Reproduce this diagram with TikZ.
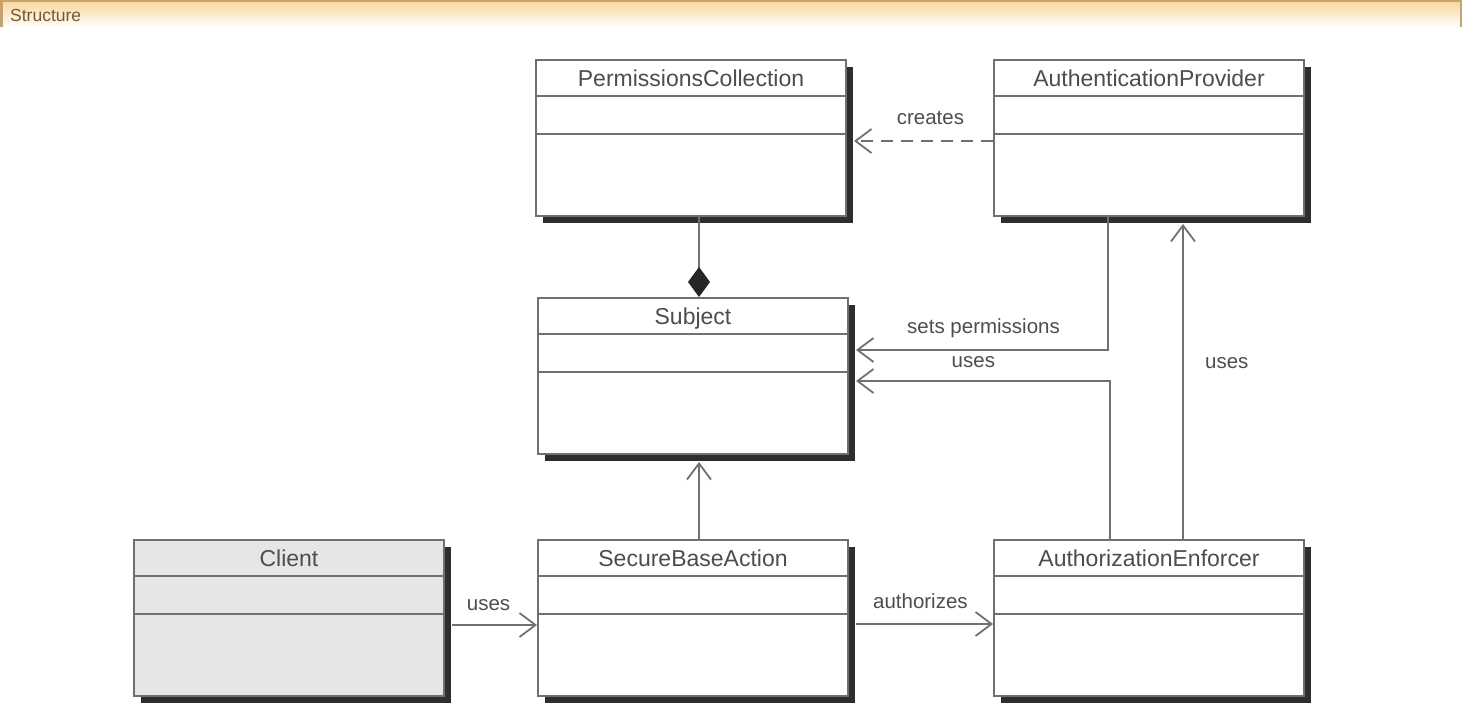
\documentclass[tikz,border=0pt]{standalone}
\usepackage{fontspec}
\setmainfont{Liberation Sans}
\usetikzlibrary{arrows.meta,shadows}
\definecolor{linegray}{HTML}{707070}
\definecolor{shadowgray}{HTML}{2E2E2E}
\definecolor{textgray}{HTML}{4D4D4D}
\definecolor{clientfill}{HTML}{E6E6E6}
\definecolor{headtop}{HTML}{FAD79C}
\definecolor{headline}{HTML}{C8A26A}
\definecolor{headtext}{HTML}{7A5A2A}
\newcommand\umlclass[4][white]{%
  \node[classbox, fill=#1] (#2) at #3 {};
  \node[titletext] (#2-t) at ([yshift=-27pt]#2.north) {#4};
  \draw[divider] ([yshift=-37pt]#2.north west) -- ([yshift=-37pt]#2.north east);
  \draw[divider] ([yshift=-75pt]#2.north west) -- ([yshift=-75pt]#2.north east);
}
\begin{document}
\begin{tikzpicture}[x=1pt,y=-1pt,
  classbox/.style={draw=linegray, line width=2pt, minimum width=310pt, minimum height=156pt, inner sep=0pt,
    drop shadow={shadow xshift=7pt, shadow yshift=-7pt, fill=shadowgray, opacity=1}},
  titletext/.style={font=\fontsize{23}{27}\selectfont, text=textgray, inner sep=0pt, anchor=base},
  divider/.style={draw=linegray, line width=2pt},
  conn/.style={draw=linegray, line width=2.2pt, -{Straight Barb[length=16pt, width=24pt, line width=1.8pt]}},
  dep/.style={conn, dash pattern=on 12pt off 8pt},
  comp/.style={draw=linegray, line width=2.2pt, -{Diamond[length=30pt, width=22pt, fill=black!85, color=black!85]}},
  lbl/.style={font=\fontsize{20.5}{24}\selectfont, text=textgray, inner sep=0pt, anchor=base}]
\useasboundingbox (0,0) rectangle (1464,709);
% header band
\shade[top color=headtop, bottom color=white] (0,1) rectangle (1461,28);
\draw[headline, line width=2pt] (0,1) -- (1461,1);
\draw[headline, line width=3pt] (1.5,0) -- (1.5,27);
\draw[headline, line width=2pt] (1461,0) -- (1461,27);
\node[font=\fontsize{17.5}{20}\selectfont, text=headtext, inner sep=0pt, anchor=base west] (title) at (10,22) {Structure};
% classes
\umlclass{pc}{(691,138)}{PermissionsCollection}
\umlclass{ap}{(1149,138)}{AuthenticationProvider}
\umlclass{subj}{(693,376)}{Subject}
\umlclass[clientfill]{client}{(289,618)}{Client}
\umlclass{sba}{(693,618)}{SecureBaseAction}
\umlclass{ae}{(1149,618)}{AuthorizationEnforcer}
% connectors
\draw[comp] ([xshift=8pt]pc.south) -- ([xshift=8pt]pc.south |- subj.north);
\draw[dep] ([yshift=-3pt]ap.west) -- node[lbl, pos=0.45, yshift=16.5pt] (lcreates) {creates} ([xshift=7pt,yshift=-3pt]pc.east);
\draw[conn] ([xshift=-41pt]ap.south) |- node[lbl, pos=0.747, yshift=16.5pt] (lsets) {sets permissions} ([xshift=7pt,yshift=26pt]subj.east);
\draw[conn] ([xshift=-39pt]ae.north) |- node[lbl, pos=0.769, yshift=13.5pt] (luses1) {uses} ([xshift=7pt,yshift=-5pt]subj.east);
\draw[conn] ([xshift=34pt]ae.north) -- node[lbl, anchor=base west, pos=0.54, xshift=21pt] (luses2) {uses} ([xshift=34pt,yshift=-7pt]ae.north |- ap.south);
\draw[conn] ([xshift=6pt]sba.north) -- ([xshift=6pt,yshift=-7pt]sba.north |- subj.south);
\draw[conn] ([xshift=7pt,yshift=-7pt]client.east) -- node[lbl, pos=0.43, yshift=14.5pt] (luses3) {uses} ([yshift=-7pt]sba.west);
\draw[conn] ([xshift=7pt,yshift=-6pt]sba.east) -- node[lbl, pos=0.47, yshift=15.5pt] (lauth) {authorizes} ([yshift=-6pt]ae.west);
\end{tikzpicture}
\end{document}
